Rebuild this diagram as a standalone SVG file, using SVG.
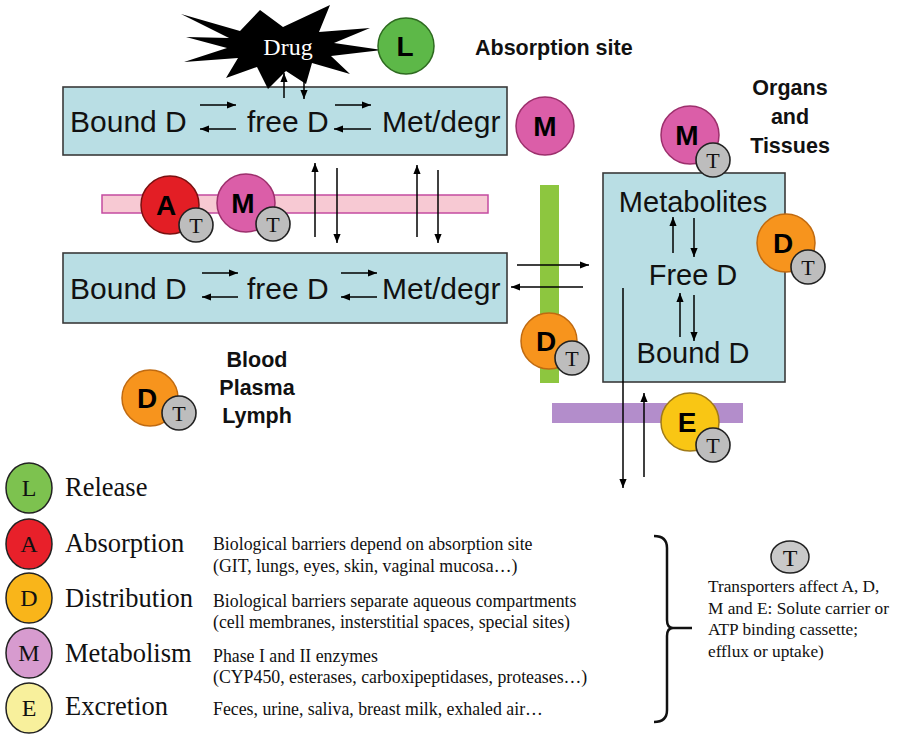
<svg xmlns="http://www.w3.org/2000/svg" width="899" height="734" viewBox="0 0 899 734">
<defs>
<marker id="ah" viewBox="0 0 10 10" refX="10" refY="5" markerWidth="9" markerHeight="9" markerUnits="userSpaceOnUse" orient="auto"><path d="M0,1 L10,5 L0,9 z" fill="#000"/></marker>
<style>
.box{fill:#B9DEE4;stroke:#3a3a3a;stroke-width:1.6}
.bt{font-family:"Liberation Sans",Arial,sans-serif;font-size:30px;fill:#111}
.lbl{font-family:"Liberation Sans",Arial,sans-serif;font-size:21.5px;font-weight:bold;fill:#111;text-anchor:middle}
.cl{font-family:"Liberation Sans",Arial,sans-serif;font-size:28px;font-weight:bold;fill:#000;text-anchor:middle}
.tt{font-family:"Liberation Serif","Times New Roman",serif;font-size:22px;fill:#111;text-anchor:middle}
.lg{font-family:"Liberation Serif","Times New Roman",serif;font-size:26.5px;fill:#111}
.lgc{font-family:"Liberation Serif","Times New Roman",serif;font-size:24px;fill:#111;text-anchor:middle}
.ds{font-family:"Liberation Serif","Times New Roman",serif;font-size:17.8px;fill:#111}
.dt{font-family:"Liberation Serif","Times New Roman",serif;font-size:17.3px;fill:#111}
.a{stroke:#000;stroke-width:1.5;fill:none;marker-end:url(#ah)}
.T{fill:#BDBDBD;stroke:#222;stroke-width:1.6}
.cA{fill:#E31E25;stroke:#7a1010;stroke-width:1.5}
.cM{fill:#DB5EA8;stroke:#9c2f6c;stroke-width:1.5}
.cD{fill:#F7941D;stroke:#c06a10;stroke-width:1.5}
.cE{fill:#F9C614;stroke:#a07a18;stroke-width:1.5}
.cL{fill:#5DB848;stroke:#2d6a1f;stroke-width:1.5}
</style>
</defs>

<g id="absorption-box">
<rect class="box" x="63" y="87" width="444" height="68"/>
<text class="bt" x="70" y="132">Bound D</text>
<text class="bt" x="247" y="132">free D</text>
<text class="bt" x="382" y="132">Met/degr</text>
</g>
<g id="blood-box">
<rect class="box" x="63" y="253" width="444" height="70"/>
<text class="bt" x="70" y="299">Bound D</text>
<text class="bt" x="247" y="299">free D</text>
<text class="bt" x="382" y="299">Met/degr</text>
</g>
<g id="organs-box">
<rect class="box" x="603" y="173" width="182" height="209"/>
<text class="bt" x="693" y="212" text-anchor="middle" style="font-size:29px">Metabolites</text>
<text class="bt" x="693" y="285" text-anchor="middle" style="font-size:29px">Free D</text>
<text class="bt" x="693" y="363" text-anchor="middle" style="font-size:29px">Bound D</text>
</g>
<g id="membranes">
<rect x="102" y="195" width="386" height="18" fill="#F7C9D3" stroke="#C44BA0" stroke-width="1.5"/>
<rect x="540" y="185" width="19" height="198" fill="#8DC63F"/>
<rect x="552" y="403" width="191" height="20" fill="#B38DCB"/>
</g>

<g id="drug">
<polygon points="181,14 240,31 260,10 283,27 330,5 319,32 370,28 334,43 382,50 331,56 350,74 312,63 306,84 286,71 268,89 257,67 226,78 238,58 184,62 227,48 186,37 229,38" fill="#000"/>
<text x="288" y="55" text-anchor="middle" style="font-family:'Liberation Serif','Times New Roman',serif;font-size:24px;fill:#fff">Drug</text>
</g>
<g id="L-node"><circle class="cL" cx="406" cy="46" r="28"/><text class="cl" x="405" y="56">L</text></g>

<g id="labels">
<text class="lbl" x="475" y="55" style="text-anchor:start">Absorption site</text>
<text class="lbl" x="790" y="95">Organs</text>
<text class="lbl" x="790" y="124">and</text>
<text class="lbl" x="790" y="153">Tissues</text>
<text class="lbl" x="257" y="367">Blood</text>
<text class="lbl" x="257" y="395">Plasma</text>
<text class="lbl" x="257" y="423">Lymph</text>
</g>

<g id="connectors">
<line class="a" x1="200" y1="105" x2="236" y2="105"/>
<line class="a" x1="236" y1="129" x2="200" y2="129"/>
<line class="a" x1="335" y1="105" x2="371" y2="105"/>
<line class="a" x1="371" y1="129" x2="334" y2="129"/>
<line class="a" x1="202" y1="273" x2="238" y2="273"/>
<line class="a" x1="238" y1="297" x2="202" y2="297"/>
<line class="a" x1="341" y1="273" x2="377" y2="273"/>
<line class="a" x1="377" y1="297" x2="341" y2="297"/>
<line class="a" x1="284" y1="98" x2="284" y2="73"/>
<line class="a" x1="304" y1="60" x2="304" y2="99"/>
<line class="a" x1="315" y1="237" x2="315" y2="163"/>
<line class="a" x1="337" y1="168" x2="337" y2="243"/>
<line class="a" x1="417" y1="237" x2="417" y2="165"/>
<line class="a" x1="438" y1="170" x2="438" y2="243"/>
<line class="a" x1="517" y1="265" x2="589" y2="265"/>
<line class="a" x1="583" y1="287" x2="511" y2="287"/>
<line class="a" x1="673" y1="253" x2="673" y2="217"/>
<line class="a" x1="694" y1="218" x2="694" y2="257"/>
<line class="a" x1="680" y1="337" x2="680" y2="293"/>
<line class="a" x1="694" y1="295" x2="694" y2="341"/>
<line class="a" x1="623" y1="288" x2="623" y2="488"/>
<line class="a" x1="644" y1="477" x2="644" y2="393"/>
</g>

<g id="A-T"><circle class="cA" cx="170" cy="205" r="29"/><text class="cl" x="166" y="215">A</text><circle class="T" cx="196" cy="225" r="17"/><text class="tt" x="196" y="233">T</text></g>
<g id="M-T-1"><circle class="cM" cx="246" cy="203" r="29"/><text class="cl" x="243" y="213">M</text><circle class="T" cx="273" cy="224" r="17"/><text class="tt" x="273" y="232">T</text></g>
<g id="M-abs"><circle class="cM" cx="545" cy="126" r="29"/><text class="cl" x="545" y="136">M</text></g>
<g id="M-T-2"><circle class="cM" cx="690" cy="135" r="29"/><text class="cl" x="687" y="145">M</text><circle class="T" cx="713" cy="160" r="17"/><text class="tt" x="713" y="168">T</text></g>
<g id="D-T-organ"><circle class="cD" cx="786" cy="243" r="29"/><text class="cl" x="783" y="253">D</text><circle class="T" cx="808" cy="267" r="17"/><text class="tt" x="808" y="275">T</text></g>
<g id="D-T-bar"><circle class="cD" cx="549" cy="341" r="28"/><text class="cl" x="546" y="351">D</text><circle class="T" cx="572" cy="358" r="17"/><text class="tt" x="572" y="366">T</text></g>
<g id="D-T-blood"><circle class="cD" cx="150" cy="398" r="28"/><text class="cl" x="147" y="408">D</text><circle class="T" cx="179" cy="413" r="17"/><text class="tt" x="179" y="421">T</text></g>
<g id="E-T"><circle class="cE" cx="690" cy="422" r="29"/><text class="cl" x="687" y="432">E</text><circle class="T" cx="713" cy="445" r="17"/><text class="tt" x="713" y="453">T</text></g>

<g id="legend">
<ellipse cx="29" cy="488" rx="23" ry="25" fill="#7DC24F" stroke="#222" stroke-width="1.5"/><text class="lgc" x="29" y="496">L</text>
<text class="lg" x="65" y="496">Release</text>
<ellipse cx="29" cy="544" rx="23" ry="25" fill="#E8202A" stroke="#222" stroke-width="1.5"/><text class="lgc" x="29" y="552">A</text>
<text class="lg" x="65" y="552">Absorption</text>
<ellipse cx="29" cy="598" rx="23" ry="25" fill="#F9B51A" stroke="#222" stroke-width="1.5"/><text class="lgc" x="29" y="606">D</text>
<text class="lg" x="65" y="607">Distribution</text>
<ellipse cx="29" cy="653" rx="23" ry="25" fill="#D79BCF" stroke="#222" stroke-width="1.5"/><text class="lgc" x="29" y="661">M</text>
<text class="lg" x="65" y="662">Metabolism</text>
<ellipse cx="29" cy="708" rx="23" ry="25" fill="#F8F09C" stroke="#222" stroke-width="1.5"/><text class="lgc" x="29" y="716">E</text>
<text class="lg" x="65" y="715">Excretion</text>
<text class="ds" x="213" y="550">Biological barriers depend on absorption site</text>
<text class="ds" x="213" y="572">(GIT, lungs, eyes, skin, vaginal mucosa…)</text>
<text class="ds" x="213" y="607">Biological barriers separate aqueous compartments</text>
<text class="ds" x="213" y="628">(cell membranes, insterstitial spaces, special sites)</text>
<text class="ds" x="213" y="662">Phase I and II enzymes</text>
<text class="ds" x="213" y="683">(CYP450, esterases, carboxipeptidases, proteases…)</text>
<text class="ds" x="213" y="715">Feces, urine, saliva, breast milk, exhaled air…</text>
<path d="M654,536 Q667,536 667,548 L667,620 Q667,628 673,628 Q667,628 667,636 L667,710 Q667,722 654,722 M670,628 L692,628" fill="none" stroke="#111" stroke-width="2.5"/>
<ellipse cx="790" cy="557" rx="19" ry="16" fill="#C9C9C9" stroke="#222" stroke-width="1.5"/><text class="lgc" x="790" y="566">T</text>
<text class="dt" x="708" y="592">Transporters affect A, D,</text>
<text class="dt" x="708" y="614">M and E: Solute carrier or</text>
<text class="dt" x="708" y="635">ATP binding cassette;</text>
<text class="dt" x="708" y="657">efflux or uptake)</text>
</g>
</svg>
